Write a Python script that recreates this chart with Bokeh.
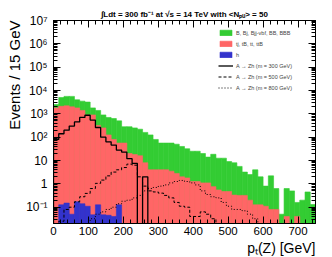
import numpy as np
from bokeh.plotting import figure
from bokeh.models import (Range1d, LinearAxis, LogAxis, FixedTicker, CustomJSTickFormatter,
                          Title, Legend, LegendItem, ColumnDataSource)
from bokeh.embed import file_html
from bokeh.resources import INLINE

# ---------------- data (15 GeV bins, 0..750 GeV) ----------------
bin_width = 15
bin_low = list(range(0, 750, 15))

# stacked histogram tops as drawn (green = total, red = tt-like + h, blue = h)
stack_total = [2500, 5000, 5600, 5600, 4000, 3500, 3200, 1800, 1400, 900,
               700, 630, 500, 280, 280, 250, 220, 160, 125, 80,
               56, 56, 56, 50, 40, 32, 25, 25, 20, 14,
               18.5, 12.6, 12.6, 9, 8, 5.6, 3.2, 2.5, 4, 2,
               0.8, 2.2, 0.63, 0.05, 0.63, 0.5, 0.16, 0.2, 0.45, 0.13]
stack_top_tt_h = [1800, 2100, 2200, 2000, 1800, 1400, 900, 900, 320, 250,
                  125, 80, 56, 56, 20, 18, 16, 8, 4, 4,
                  4, 4, 3.5, 2.8, 2, 1.8, 1.26, 1.26, 1.1, 1.1,
                  0.76, 0.55, 0.47, 0.47, 0.33, 0.32, 0.32, 0.2, 0.126, 0.126,
                  0.11, 0.08, 0.08, 0, 0.04, 0, 0.04, 0, 0, 0]
higgs = [0, 0.126, 0.15, 0.05, 0.17, 0.14, 0.11, 0.047, 0.126, 0.047,
         0.045, 0.04, 0.126, 0, 0, 0, 0, 0, 0, 0] + [0] * 30
sig_300 = [80, 140, 200, 300, 450, 700, 870, 540, 260, 100,
           63, 46, 28, 23, 12, 7.6, 0, 2, 0, 0] + [0] * 30
sig_500 = [0, 0.025, 0.08, 0.1, 0.17, 0.28, 0.39, 0.63, 1.05, 1.45,
           2.2, 3.2, 4, 5, 7, 6.3, 2, 0.8, 0.5, 0.45,
           0.4, 0.32, 0.25, 0.16, 0.11, 0.1, 0.04, 0.04, 0.063, 0.05,
           0.032] + [0] * 19
sig_800 = [0, 0, 0, 0, 0, 0, 0, 0.032, 0.05, 0.063,
           0.08, 0.1, 0.14, 0.18, 0.2, 0.25, 0.32, 0.5, 0.63, 0.7,
           0.8, 0.9, 1.1, 1.26, 1.4, 1.26, 1.1, 0.9, 0.5, 0.35,
           0.28, 0.25, 0.16, 0.11, 0.08, 0.08, 0.07, 0.05, 0.032] + [0] * 11

legend_labels = ["B, Bj, Bjj-vbf, BB, BBB", "tj, tB, tt, ttB", "h",
                 "A \u2192 Zh (m = 300 GeV)", "A \u2192 Zh (m = 500 GeV)", "A \u2192 Zh (m = 800 GeV)"]
title_text = "\u222bLdt = 300 fb\u207b\u00b9 at \u221as = 14 TeV with <N\u209a\u1d64> = 50"
y_title = "Events / 15 GeV"
x_title = "p\u209c(Z) [GeV]"

x_major = [0, 100, 200, 300, 400, 500, 600, 700]
x_minor = list(range(0, 760, 20))
y_major = [0.1, 1, 10, 100, 1e3, 1e4, 1e5, 1e6, 1e7]
y_minor = [k * 10.0 ** e for e in range(-2, 7) for k in range(2, 10)]

FONT = "Liberation Sans"
GREEN = "#33cc33"
RED = "#ff6666"
BLUE = "#3333cc"
FLOOR = 1e-4

p = figure(width=332, height=257, x_range=Range1d(0, 750), y_range=Range1d(0.02, 1e7),
           y_axis_type="log", output_backend="svg", toolbar_location=None, title=None,
           min_border_left=53, min_border_right=17, min_border_top=20, min_border_bottom=34)
p.grid.visible = False
p.outline_line_color = "black"
p.background_fill_color = "white"
p.border_fill_color = "white"


def hist_source(vals):
    lo = [b for b, v in zip(bin_low, vals) if v > 0]
    top = [v for v in vals if v > 0]
    return ColumnDataSource(dict(left=lo, right=[l + bin_width for l in lo], top=top,
                                 bottom=[FLOOR] * len(lo)))


r_green = p.quad(left="left", right="right", top="top", bottom="bottom", source=hist_source(stack_total),
                 fill_color=GREEN, line_color=GREEN, line_width=0.6)
r_red = p.quad(left="left", right="right", top="top", bottom="bottom", source=hist_source(stack_top_tt_h),
               fill_color=RED, line_color=RED, line_width=0.6)
r_blue = p.quad(left="left", right="right", top="top", bottom="bottom", source=hist_source(higgs),
                fill_color=BLUE, line_color=BLUE, line_width=0.6)


def step_xy(vals):
    xs = [0] + bin_low + [bin_low[-1] + bin_width]
    ys = [FLOOR] + [v if v > 0 else FLOOR for v in vals] + [FLOOR]
    return xs, ys


xs, ys = step_xy(sig_300)
r_s300 = p.step(xs, ys, mode="after", line_color="black", line_width=1.3)
xs, ys = step_xy(sig_500)
r_s500 = p.step(xs, ys, mode="after", line_color="black", line_width=1.0, line_dash="3 2")
xs, ys = step_xy(sig_800)
r_s800 = p.step(xs, ys, mode="after", line_color="black", line_width=1.0, line_dash="1 2")

# ---------------- axes ----------------
sup = CustomJSTickFormatter(code="""
const e = Math.round(Math.log10(tick));
if (e == 0) return "1";
if (e == 1) return "10";
const m = {"-":"\u207b","0":"\u2070","1":"\u00b9","2":"\u00b2","3":"\u00b3","4":"\u2074","5":"\u2075","6":"\u2076","7":"\u2077","8":"\u2078","9":"\u2079"};
return "10" + String(e).split("").map(c => m[c]).join("");
""")
blank = CustomJSTickFormatter(code="return '';")


def style_axis(ax, show_labels):
    ax.axis_line_color = "black"
    ax.major_tick_line_color = "black"
    ax.minor_tick_line_color = "black"
    ax.major_tick_in = 7
    ax.major_tick_out = 0
    ax.minor_tick_in = 4
    ax.minor_tick_out = 0
    ax.major_label_text_font = FONT
    ax.major_label_text_color = "black"
    if not show_labels:
        ax.major_label_text_font_size = "0px"
        ax.major_label_standoff = 0


xa = p.xaxis[0]
xa.ticker = FixedTicker(ticks=x_major, minor_ticks=x_minor)
style_axis(xa, True)
xa.major_label_text_font_size = "11.5px"
xa.major_label_standoff = 3

ya = p.yaxis[0]
ya.ticker = FixedTicker(ticks=y_major, minor_ticks=y_minor)
ya.formatter = sup
style_axis(ya, True)
ya.major_label_text_font_size = "12px"
ya.major_label_standoff = 6

top_ax = LinearAxis(ticker=FixedTicker(ticks=x_major, minor_ticks=x_minor), formatter=blank)
style_axis(top_ax, False)
p.add_layout(top_ax, "above")
right_ax = LogAxis(ticker=FixedTicker(ticks=y_major, minor_ticks=y_minor), formatter=blank)
style_axis(right_ax, False)
p.add_layout(right_ax, "right")

# ---------------- titles in side panels ----------------
p.add_layout(Title(text=title_text, align="center", text_font=FONT, text_font_size="8px",
                   text_font_style="bold", text_color="black", standoff=4), "above")
p.add_layout(Title(text=y_title, align="right", text_font=FONT, text_font_size="15px",
                   text_font_style="normal", text_color="black", standoff=2), "left")
p.add_layout(Title(text=x_title, align="right", text_font=FONT, text_font_size="14px",
                   text_font_style="normal", text_color="black", standoff=0), "below")

# ---------------- legend ----------------
items = [LegendItem(label=t, renderers=[r]) for t, r in
         zip(legend_labels, [r_green, r_red, r_blue, r_s300, r_s500, r_s800])]
legend = Legend(items=items, location=(165, 132), background_fill_alpha=0, border_line_alpha=0,
                label_text_font=FONT, label_text_font_size="5.5px", glyph_width=15, glyph_height=7,
                label_height=7, spacing=4, padding=0, margin=0, label_standoff=3)
p.add_layout(legend)

open("out.html", "w").write(file_html(p, INLINE))
